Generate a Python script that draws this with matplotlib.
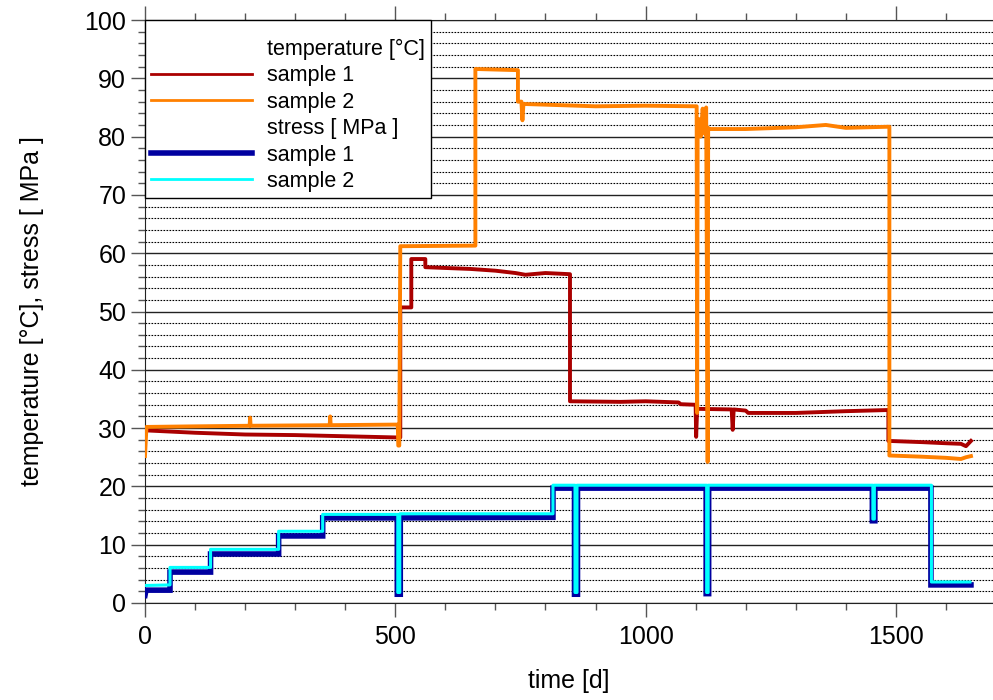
import matplotlib
matplotlib.use('Agg')
import matplotlib.pyplot as plt
from matplotlib.lines import Line2D
from matplotlib.ticker import MultipleLocator


FONT_SIZE = 18
LEGEND_FONT_SIZE = 15.5
PATH_OUT = 'out.png'

# temperature [°C], sample 1
temp1_t = [0, 3, 100, 200, 300, 400, 500, 510, 510, 532, 532, 560, 560,
           650, 700, 740, 760, 800, 849, 849, 950, 1000, 1066, 1070, 1100,
           1101, 1103, 1172, 1174, 1176, 1200, 1205, 1300, 1400, 1485, 1485,
           1550, 1600, 1630, 1640, 1650]
temp1_v = [28.5, 29.6, 29.2, 28.9, 28.8, 28.6, 28.4, 28.4, 50.7, 50.7, 59.0,
           59.0, 57.6, 57.3, 57.0, 56.6, 56.3, 56.6, 56.4, 34.6, 34.5, 34.6,
           34.4, 34.1, 34.0, 28.5, 33.3, 33.2, 29.7, 33.2, 33.0, 32.6, 32.6,
           32.9, 33.1, 27.8, 27.6, 27.4, 27.3, 26.9, 27.8]

# temperature [°C], sample 2
temp2_t = [0, 3, 100, 209, 210, 211, 369, 370, 371, 500, 505, 506, 508, 510,
           660, 660, 745, 745, 752, 754, 756, 900, 1000, 1102, 1103, 1104,
           1107, 1110, 1114, 1118, 1121, 1124, 1125, 1127, 1200, 1300, 1360,
           1400, 1487, 1487, 1550, 1600, 1630, 1640, 1650]
temp2_v = [25.2, 30.2, 30.3, 30.4, 31.8, 30.4, 30.5, 32.0, 30.5, 30.6, 30.6,
           27.0, 27.0, 61.2, 61.3, 91.6, 91.4, 86.0, 86.0, 82.8, 85.6, 85.2,
           85.3, 85.2, 32.6, 80.0, 83.0, 80.0, 84.8, 80.5, 85.0, 24.2, 81.5,
           81.3, 81.3, 81.6, 82.0, 81.5, 81.7, 25.3, 25.1, 24.9, 24.7, 25.0,
           25.2]

# stress [MPa], sample 1
stress1_t = [0, 2, 50, 50, 131, 131, 267, 267, 355, 355, 504, 504, 510, 510,
             815, 815, 858, 858, 864, 864, 1121, 1121, 1126, 1126, 1453, 1453,
             1458, 1458, 1570, 1570, 1650]
stress1_v = [1.3, 2.2, 2.2, 5.3, 5.3, 8.4, 8.4, 11.5, 11.5, 14.6, 14.6, 1.5,
             1.5, 14.6, 14.7, 19.7, 19.7, 1.5, 1.5, 19.7, 19.7, 1.6, 1.6, 19.7,
             19.7, 14.1, 14.1, 19.7, 19.7, 3.1, 3.1]

# stress [MPa], sample 2
stress2_t = [0, 50, 50, 131, 131, 267, 267, 355, 355, 505, 505, 509, 509,
             815, 815, 859, 859, 863, 863, 1122, 1122, 1125, 1125, 1454, 1454,
             1457, 1457, 1571, 1571, 1648]
stress2_v = [3.0, 3.1, 6.1, 6.1, 9.2, 9.2, 12.3, 12.3, 15.2, 15.2, 1.8, 1.8,
             15.3, 15.3, 20.2, 20.2, 1.8, 1.8, 20.2, 20.2, 1.8, 1.8, 20.2,
             20.2, 14.4, 14.4, 20.2, 20.2, 3.6, 3.6]


def main():
    plt.rcParams['font.family'] = ['Liberation Sans', 'DejaVu Sans']

    fig = plt.figure(figsize=(9.93, 7.0), dpi=100)
    ax = fig.add_axes([0.146, 0.1386, 0.854, 0.8328])

    # stress first, temperatures on top
    ax.plot(stress1_t, stress1_v, color='#0000a0', lw=4.0,
            solid_joinstyle='miter', zorder=3)
    ax.plot(stress2_t, stress2_v, color='#00ffff', lw=2.2, zorder=4)
    ax.plot(temp1_t, temp1_v, color='#aa0000', lw=2.8, zorder=5)
    ax.plot(temp2_t, temp2_v, color='#ff8000', lw=2.8, zorder=6)

    ax.set_xlim(0, 1694)
    ax.set_ylim(0, 100)
    ax.xaxis.set_major_locator(MultipleLocator(500))
    ax.xaxis.set_minor_locator(MultipleLocator(100))
    ax.yaxis.set_major_locator(MultipleLocator(10))
    ax.yaxis.set_minor_locator(MultipleLocator(2))

    ax.grid(axis='y', which='major', color='#222222', lw=1.0, ls='-')
    ax.grid(axis='y', which='minor', color='black', lw=0.8,
            ls=(0, (1.5, 1.2)))
    ax.set_axisbelow(True)

    ax.tick_params(axis='both', which='both', direction='out',
                   color='#555555', labelsize=FONT_SIZE)
    ax.tick_params(axis='x', which='both', top=True, pad=6)
    ax.tick_params(which='major', length=10, width=1.0)
    ax.tick_params(which='minor', length=5, width=1.0)
    ax.spines['right'].set_visible(False)
    for side in ('left', 'bottom', 'top'):
        ax.spines[side].set_color('#222222')

    ax.set_xlabel('time [d]', fontsize=FONT_SIZE, labelpad=14)
    ax.set_ylabel('temperature [°C], stress [ MPa ]', fontsize=FONT_SIZE,
                  labelpad=29)

    blank = Line2D([], [], color='none')
    handles = [
        blank,
        Line2D([], [], color='#aa0000', lw=2.0),
        Line2D([], [], color='#ff8000', lw=2.0),
        blank,
        Line2D([], [], color='#0000a0', lw=4.0),
        Line2D([], [], color='#00ffff', lw=2.0),
    ]
    labels = ['temperature [°C]', 'sample 1', 'sample 2',
              'stress [ MPa ]', 'sample 1', 'sample 2']
    leg = ax.legend(handles, labels, loc='upper left', borderaxespad=0,
                    fontsize=LEGEND_FONT_SIZE, handlelength=4.65,
                    handletextpad=0.7, labelspacing=0.25, borderpad=0.3,
                    fancybox=False, framealpha=1, edgecolor='black',
                    title=' ', title_fontsize=6)
    leg.get_frame().set_linewidth(1.0)
    leg.set_zorder(10)

    fig.savefig(PATH_OUT, dpi=100)
    plt.close(fig)


if __name__ == '__main__':
    main()
